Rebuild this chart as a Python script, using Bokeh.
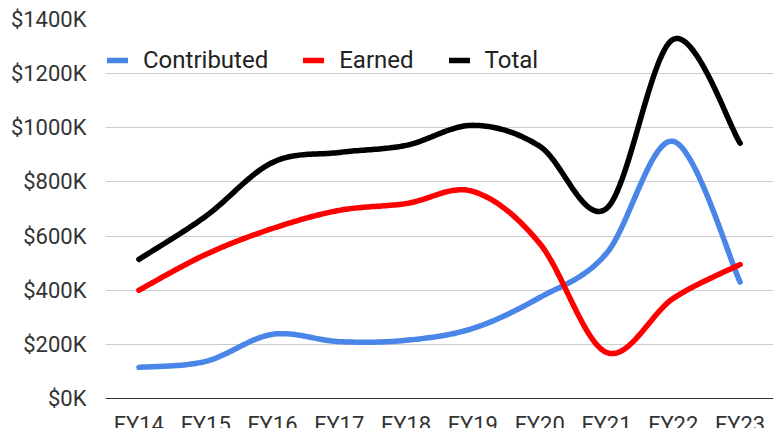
import numpy as np
from bokeh.plotting import figure
from bokeh.models import FixedTicker, PrintfTickFormatter, Legend, LegendItem, Range1d, Span
from bokeh.core.properties import value
from bokeh.embed import file_html
from bokeh.resources import INLINE

years = ["FY14", "FY15", "FY16", "FY17", "FY18", "FY19", "FY20", "FY21", "FY22", "FY23"]
contributed = [115, 137, 237, 210, 215, 259, 373, 536, 950, 430]
earned = [400, 532, 628, 695, 720, 765, 573, 170, 370, 495]
total = [514, 673, 872, 909, 935, 1009, 932, 702, 1327, 943]
y_ticks = list(range(0, 1401, 200))


def smooth(xs, ys, n=30, t=0.5):
    xs = np.asarray(xs, float)
    ys = np.asarray(ys, float)
    px = np.concatenate([[xs[0]], xs, [xs[-1]]])
    py = np.concatenate([[ys[0]], ys, [ys[-1]]])
    ox, oy = [], []
    for i in range(1, len(px) - 2):
        p0, p1, p2, p3 = (px[i - 1], py[i - 1]), (px[i], py[i]), (px[i + 1], py[i + 1]), (px[i + 2], py[i + 2])
        m1 = (t * (p2[0] - p0[0]), t * (p2[1] - p0[1]))
        m2 = (t * (p3[0] - p1[0]), t * (p3[1] - p1[1]))
        s = np.linspace(0, 1, n, endpoint=(i == len(px) - 3))
        h00 = 2 * s**3 - 3 * s**2 + 1
        h10 = s**3 - 2 * s**2 + s
        h01 = -2 * s**3 + 3 * s**2
        h11 = s**3 - s**2
        ox.extend(h00 * p1[0] + h10 * m1[0] + h01 * p2[0] + h11 * m2[0])
        oy.extend(h00 * p1[1] + h10 * m1[1] + h01 * p2[1] + h11 * m2[1])
    return ox, oy


xs = list(range(len(years)))

W, H = 780, 428
TOP, AXIS_Y = 19, 398
ymax = 1400
ymin = -(H - AXIS_Y) / (AXIS_Y - TOP) * ymax

p = figure(width=W, height=H, output_backend="svg", toolbar_location=None,
           x_range=Range1d(-0.5, 9.5), y_range=Range1d(ymin, ymax),
           min_border_left=105, min_border_right=7, min_border_top=TOP, min_border_bottom=0)
p.outline_line_color = None
p.background_fill_color = "white"
p.border_fill_color = "white"
p.xaxis.visible = False

p.add_layout(Span(location=0, dimension="width", line_color="#333333", line_width=1))

series = [("Contributed", contributed, "#4a86e8"), ("Earned", earned, "#ff0000"), ("Total", total, "#000000")]
items = []
for name, ys, col in series:
    sx, sy = smooth(xs, ys)
    r = p.line(sx, sy, line_color=col, line_width=5.5, line_cap="round", line_join="round")
    items.append(LegendItem(label=name, renderers=[r]))

p.text(x=xs, y=[0] * len(xs), text=years, text_font=value("Roboto"), text_font_size="22px",
       text_color="#333333", text_align="center", text_baseline="top", y_offset=13)

legend = Legend(items=items, orientation="horizontal", location=(2, 354),
                background_fill_alpha=0, border_line_color=None, padding=0, margin=0,
                spacing=35, glyph_width=21, glyph_height=28, label_standoff=15,
                label_text_font="Roboto", label_text_font_size="24px", label_text_color="#222222")
p.add_layout(legend, "center")

p.yaxis.ticker = FixedTicker(ticks=y_ticks)
p.yaxis.formatter = PrintfTickFormatter(format="$%dK")
p.yaxis.major_tick_line_color = None
p.yaxis.minor_tick_line_color = None
p.yaxis.major_label_text_font = "Roboto"
p.yaxis.major_label_text_font_size = "22px"
p.yaxis.major_label_text_color = "#333333"
p.yaxis.axis_line_color = None
p.yaxis.major_label_standoff = 13

p.xgrid.grid_line_color = None
p.ygrid.ticker = FixedTicker(ticks=y_ticks[1:])
p.ygrid.grid_line_color = "#cccccc"
p.ygrid.grid_line_width = 1

open("out.html", "w").write(file_html(p, INLINE))
